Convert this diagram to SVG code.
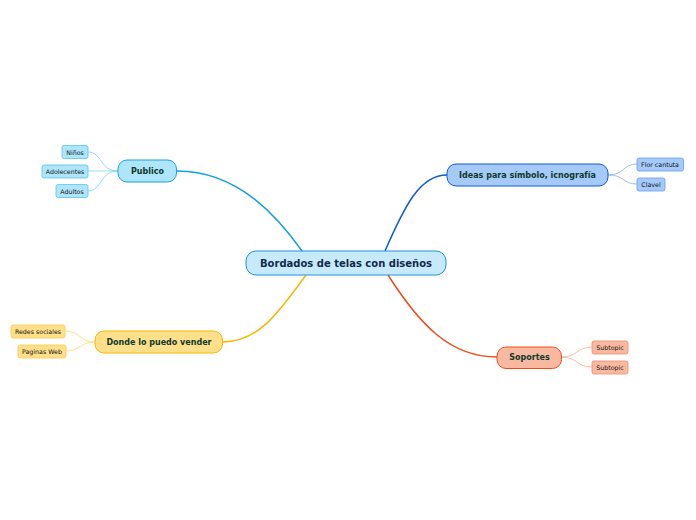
<svg xmlns="http://www.w3.org/2000/svg" width="696" height="520" viewBox="0 0 696 520">
<style>
text{font-family:"DejaVu Sans","Verdana",sans-serif;text-anchor:middle;dominant-baseline:central}
.main{font-size:10px;font-weight:bold;fill:#13284a}
.topic{font-size:8px;font-weight:bold;fill:#0e3a2c}
.sub{font-size:6.3px;fill:#111}
.c{fill:none;stroke-width:1.5}
.cs{fill:none;stroke-width:0.8}
</style>
<rect width="696" height="520" fill="#fff"/>
<g id="connectors">
<path class="c" d="M177,171 C240,171 280,220 302,251" stroke="#14a0e6"/>
<path class="c" d="M447,175 C420,175 405,205 385,251" stroke="#0a5ed0"/>
<path class="c" d="M222,342 C260,342 280,310 306,275" stroke="#f8b800"/>
<path class="c" d="M497,357 C450,357 420,325 388,275" stroke="#f04d1a"/>
<path class="cs" d="M118,171 C100,171 102,152 88,152" stroke="#7fd0f5"/>
<path class="cs" d="M118,171 L88,171" stroke="#7fd0f5"/>
<path class="cs" d="M118,171 C100,171 102,191 88,191" stroke="#7fd0f5"/>
<path class="cs" d="M608,175 C625,175 622,164 637,164" stroke="#86aef0"/>
<path class="cs" d="M608,175 C625,175 622,184 637,184" stroke="#86aef0"/>
<path class="cs" d="M95,342 C80,342 80,331 65,331" stroke="#ffd77a"/>
<path class="cs" d="M95,342 C80,342 80,351 66,351" stroke="#ffd77a"/>
<path class="cs" d="M561,357 C578,357 576,347 592,347" stroke="#f8a890"/>
<path class="cs" d="M561,357 C578,357 576,367 592,367" stroke="#f8a890"/>
</g>
<g id="central">
<rect x="246" y="251" width="200" height="24" rx="10" fill="#c6eafb" stroke="#1a96d8" stroke-width="1"/>
<text class="main" x="346" y="263">Bordados de telas con diseños</text>
</g>
<g id="publico">
<rect x="118" y="160" width="58.5" height="22" rx="9" fill="#aee5fb" stroke="#19a2e8" stroke-width="1"/>
<text class="topic" x="147.5" y="171">Publico</text>
</g>
<g id="ninos">
<rect x="62" y="145.5" width="26" height="13" rx="2" fill="#aee5fb" stroke="#5cc4f2" stroke-width="0.8"/>
<text class="sub" x="75" y="152">Niños</text>
</g>
<g id="adolecentes">
<rect x="42" y="165" width="46" height="13" rx="2" fill="#aee5fb" stroke="#5cc4f2" stroke-width="0.8"/>
<text class="sub" x="65" y="171.5">Adolecentes</text>
</g>
<g id="adultos">
<rect x="56" y="184.5" width="32" height="13" rx="2" fill="#aee5fb" stroke="#5cc4f2" stroke-width="0.8"/>
<text class="sub" x="72" y="191">Adultos</text>
</g>
<g id="ideas">
<rect x="447" y="164" width="161" height="22" rx="9" fill="#a5c9f9" stroke="#0e5cd0" stroke-width="1"/>
<text class="topic" x="527.5" y="175">Ideas para símbolo, icnografía</text>
</g>
<g id="flor">
<rect x="637" y="158" width="46.5" height="13" rx="2" fill="#a5c9f9" stroke="#6a9ef0" stroke-width="0.8"/>
<text class="sub" x="660" y="164.5">Flor cantuta</text>
</g>
<g id="clavel">
<rect x="637" y="178" width="28" height="13" rx="2" fill="#a5c9f9" stroke="#6a9ef0" stroke-width="0.8"/>
<text class="sub" x="651" y="184.5">Clavel</text>
</g>
<g id="donde">
<rect x="95" y="331" width="127.5" height="22" rx="9" fill="#ffdf8a" stroke="#f8b800" stroke-width="1"/>
<text class="topic" x="159" y="342">Donde lo puedo vender</text>
</g>
<g id="redes">
<rect x="11" y="325" width="54" height="13" rx="2" fill="#ffdf8a" stroke="#fcc850" stroke-width="0.8"/>
<text class="sub" x="38" y="331.5">Redes sociales</text>
</g>
<g id="paginas">
<rect x="18" y="345" width="48" height="13" rx="2" fill="#ffdf8a" stroke="#fcc850" stroke-width="0.8"/>
<text class="sub" x="42" y="351.5">Paginas Web</text>
</g>
<g id="soportes">
<rect x="497" y="347" width="64.5" height="21.5" rx="9" fill="#f9b9a1" stroke="#f04d1a" stroke-width="1"/>
<text class="topic" x="529.5" y="357.5">Soportes</text>
</g>
<g id="subtopic1">
<rect x="592" y="341" width="36" height="13" rx="2" fill="#f9b9a1" stroke="#f48a68" stroke-width="0.8"/>
<text class="sub" x="610" y="347.5">Subtopic</text>
</g>
<g id="subtopic2">
<rect x="592" y="361" width="36" height="13" rx="2" fill="#f9b9a1" stroke="#f48a68" stroke-width="0.8"/>
<text class="sub" x="610" y="367.5">Subtopic</text>
</g>
</svg>
